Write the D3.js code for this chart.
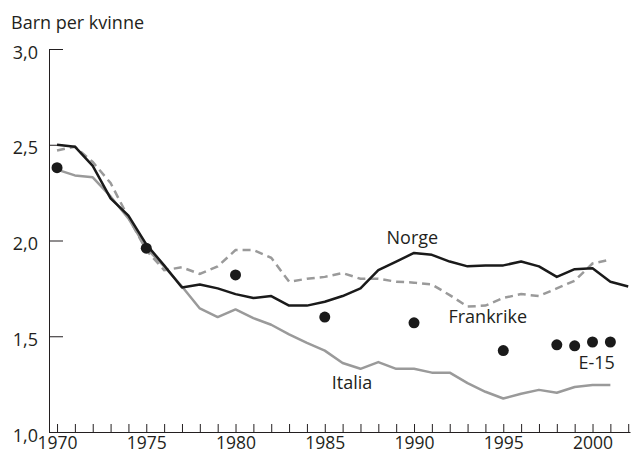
<!DOCTYPE html>
<html lang="no">
<head>
<meta charset="UTF-8">
<title>Barn per kvinne</title>
<script src="https://d3js.org/d3.v7.min.js"></script>
<style>
  body { margin: 0; background: #fff; }
  text { font-family: "Open Sans", "Noto Sans", sans-serif; fill: #231f20; }
</style>
</head>
<body>
<div id="chart"></div>
<script>
// Years and series (samlet fruktbarhetstall)
const years = d3.range(1970, 2003);
const norge = [2.50, 2.49, 2.39, 2.22, 2.13, 1.98, 1.87, 1.755, 1.77, 1.75, 1.72, 1.70, 1.71, 1.66, 1.66,
               1.68, 1.71, 1.75, 1.845, 1.89, 1.935, 1.925, 1.89, 1.865, 1.87, 1.87, 1.89, 1.865, 1.81, 1.85,
               1.855, 1.785, 1.76];
const frankrike = [2.47, 2.49, 2.41, 2.30, 2.12, 1.95, 1.845, 1.86, 1.825, 1.865, 1.95, 1.95, 1.91, 1.785, 1.80,
                   1.81, 1.83, 1.80, 1.80, 1.785, 1.78, 1.77, 1.715, 1.655, 1.66, 1.70, 1.72, 1.71, 1.75, 1.79,
                   1.88, 1.90];
const italia = [2.37, 2.34, 2.33, 2.23, 2.115, 1.96, 1.865, 1.76, 1.645, 1.60, 1.64, 1.595, 1.56, 1.51, 1.465,
                1.425, 1.36, 1.33, 1.365, 1.33, 1.33, 1.31, 1.31, 1.255, 1.21, 1.175, 1.20, 1.22, 1.205, 1.235,
                1.245, 1.245];
const e15Years = [1970, 1975, 1980, 1985, 1990, 1995, 1998, 1999, 2000, 2001];
const e15 = [2.38, 1.96, 1.82, 1.60, 1.57, 1.425, 1.455, 1.45, 1.47, 1.47];
const yTicks = [1.0, 1.5, 2.0, 2.5, 3.0];
const xLabelYears = [1970, 1975, 1980, 1985, 1990, 1995, 2000];

const W = 636, H = 454;
const svg = d3.select("#chart").append("svg")
  .attr("width", W).attr("height", H);

const x = d3.scaleLinear().domain([1969.55, 2002.1]).range([49, 630]);
const y = d3.scaleLinear().domain([1, 3]).range([432, 49]);
const fmt = d => d3.format(".1f")(d).replace(".", ",");

// y axis
const yAxis = svg.append("g")
  .attr("transform", `translate(${x(1969.55)},0)`)
  .call(d3.axisLeft(y).tickValues(yTicks).tickSize(-14).tickSizeOuter(0)
        .tickPadding(11).tickFormat(fmt));

// x axis
const xAxis = svg.append("g")
  .attr("transform", `translate(0,${y(1)})`)
  .call(d3.axisBottom(x).tickValues(years).tickSize(-8).tickSizeOuter(0)
        .tickPadding(5).tickFormat(d => xLabelYears.includes(d) ? d : ""));

svg.selectAll(".domain, .tick line").attr("stroke", "#231f20").attr("stroke-width", 1);
svg.selectAll(".tick text").style("font-size", "18px").attr("fill", "#231f20");
yAxis.selectAll(".tick text").attr("dy", "0.5em");
xAxis.selectAll(".tick text").style("font-size", "17.5px").attr("dy", "0.68em");

// y title
svg.append("text").attr("x", 11).attr("y", 29)
  .style("font-size", "18px").text("Barn per kvinne");

const line = d3.line().x((d, i) => x(years[i])).y(d => y(d));

svg.append("path").datum(italia)
  .attr("d", line).attr("fill", "none")
  .attr("stroke", "#9a9a9a").attr("stroke-width", 2.5).attr("stroke-linejoin", "round");

svg.append("path").datum(frankrike)
  .attr("d", line).attr("fill", "none")
  .attr("stroke", "#9a9a9a").attr("stroke-width", 2.5)
  .attr("stroke-dasharray", "8,5");

svg.append("path").datum(norge)
  .attr("d", line).attr("fill", "none")
  .attr("stroke", "#1a1a1a").attr("stroke-width", 2.5).attr("stroke-linejoin", "round");

svg.append("g").selectAll("circle")
  .data(e15).enter().append("circle")
  .attr("cx", (d, i) => x(e15Years[i]))
  .attr("cy", d => y(d))
  .attr("r", 5.5)
  .attr("fill", "#1a1a1a");

// series labels
const labels = [
  {t: "Norge", yr: 1988.46, v: 1.982},
  {t: "Frankrike", yr: 1991.93, v: 1.571},
  {t: "E-15", yr: 1999.21, v: 1.329},
  {t: "Italia", yr: 1985.39, v: 1.2245}
];
svg.append("g").selectAll("text")
  .data(labels).enter().append("text")
  .attr("x", d => x(d.yr)).attr("y", d => y(d.v))
  .style("font-size", "18px")
  .text(d => d.t);
</script>
</body>
</html>
